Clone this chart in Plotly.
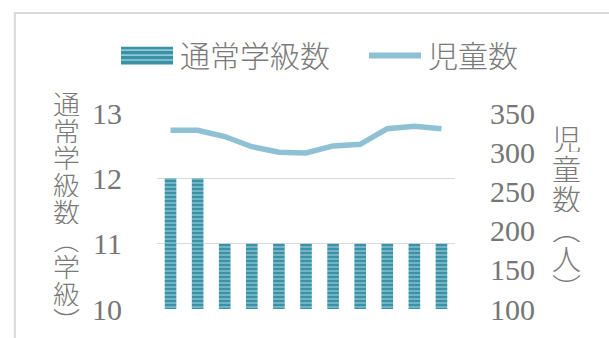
import plotly.graph_objects as go

# ---- data ----
categories = ["1", "2", "3", "4", "5", "6", "7", "8", "9", "10", "11"]
class_counts = [12, 12, 11, 11, 11, 11, 11, 11, 11, 11, 11]
pupil_counts = [328, 328, 320, 307, 300, 299, 308, 310, 330, 333, 330]
left_ticks = [10, 11, 12, 13]
right_ticks = [100, 150, 200, 250, 300, 350]
legend_labels = ["通常学級数", "児童数"]
left_title = "通常学級数︵学級︶"
right_title = "児童数︵人︶"

# ---- layout geometry (pixels) ----
W, H = 609, 338
L, R, T, B = 157, 154, 113, 27
PW, PH = W - L - R, H - T - B


def px2x(px):
    return (px - L) / PW


def px2y(py):
    return (H - B - py) / PH


GRAY = "#767676"
BAR_BG = "#3b92a7"
BAR_FG = "#93c8d5"
LINE_C = "#8ec1d3"
GRID = "#d9d9d9"

fig = go.Figure()
fig.add_trace(go.Bar(
    x=categories, y=class_counts, name=legend_labels[0],
    marker=dict(color=BAR_BG, line=dict(width=0),
                pattern=dict(shape="-", size=4, solidity=0.35,
                             fgcolor=BAR_FG, bgcolor=BAR_BG, fgopacity=0.9)),
    yaxis="y", showlegend=False, hoverinfo="skip",
))
fig.add_trace(go.Scatter(
    x=categories, y=pupil_counts, name=legend_labels[1], mode="lines",
    line=dict(color=LINE_C, width=5.5), yaxis="y2", showlegend=False,
    hoverinfo="skip",
))

tickfont = dict(family="Liberation Serif", size=30, color=GRAY)
fig.update_layout(
    width=W, height=H,
    margin=dict(l=L, r=R, t=T, b=B),
    paper_bgcolor="white", plot_bgcolor="white",
    bargap=0.57,
    xaxis=dict(showticklabels=False, showgrid=False, zeroline=False,
               showline=False, ticks=""),
    yaxis=dict(range=[10, 13], tickvals=left_ticks, showgrid=True,
               gridcolor=GRID, gridwidth=1.6, zeroline=False, showline=False,
               ticks="outside", ticklen=28, tickcolor="rgba(0,0,0,0)",
               tickfont=tickfont),
    yaxis2=dict(range=[100, 350], tickvals=right_ticks, overlaying="y",
                side="right", showgrid=False, zeroline=False, showline=False,
                ticks="outside", ticklen=28, tickcolor="rgba(0,0,0,0)",
                tickfont=tickfont),
)

shapes = []
annotations = []

# outer border (partially visible box)
shapes.append(dict(type="line", xref="paper", yref="paper",
                   x0=px2x(14.8), x1=px2x(14.8), y0=px2y(H + 10), y1=px2y(12),
                   line=dict(color=GRID, width=2)))
shapes.append(dict(type="line", xref="paper", yref="paper",
                   x0=px2x(14), x1=px2x(W + 10), y0=px2y(12), y1=px2y(12),
                   line=dict(color=GRID, width=2)))

# custom legend
shapes.append(dict(type="rect", xref="paper", yref="paper",
                   x0=px2x(121), x1=px2x(173), y0=px2y(64), y1=px2y(46),
                   fillcolor=BAR_BG, line=dict(width=0)))
for yy in (49.5, 54.5, 59.5):
    shapes.append(dict(type="line", xref="paper", yref="paper",
                       x0=px2x(121), x1=px2x(173), y0=px2y(yy), y1=px2y(yy),
                       line=dict(color=BAR_FG, width=1.6)))
shapes.append(dict(type="line", xref="paper", yref="paper",
                   x0=px2x(369), x1=px2x(421), y0=px2y(55), y1=px2y(55),
                   line=dict(color=LINE_C, width=6)))
legfont = dict(family="Noto Sans CJK JP", size=30, color="#7a7a7a", weight=300)
annotations.append(dict(text=legend_labels[0], xref="paper", yref="paper",
                        x=px2x(178), y=px2y(53), xanchor="left", yanchor="middle",
                        showarrow=False, font=legfont))
annotations.append(dict(text=legend_labels[1], xref="paper", yref="paper",
                        x=px2x(426), y=px2y(53), xanchor="left", yanchor="middle",
                        showarrow=False, font=legfont))

# vertical axis titles (one character per line, upright)
for i, ch in enumerate(left_title):
    annotations.append(dict(text=ch, xref="paper", yref="paper",
                            x=px2x(66), y=px2y(102.5 + 27.5 * i),
                            xanchor="center", yanchor="middle", showarrow=False,
                            height=26, valign="middle",
                            font=dict(family="Noto Sans CJK JP", size=27,
                                      color="#7a7a7a", weight=300)))
for i, ch in enumerate(right_title):
    annotations.append(dict(text=ch, xref="paper", yref="paper",
                            x=px2x(566), y=px2y(137.5 + 30.25 * i),
                            xanchor="center", yanchor="middle", showarrow=False,
                            height=29, valign="middle",
                            font=dict(family="Noto Sans CJK JP", size=29,
                                      color="#7a7a7a", weight=300)))

fig.update_layout(shapes=shapes, annotations=annotations)
fig.write_html("out.html",
               config={"displayModeBar": False, "staticPlot": True},
               post_script="document.body.style.margin='0';"
                           "document.body.style.overflow='hidden';")
